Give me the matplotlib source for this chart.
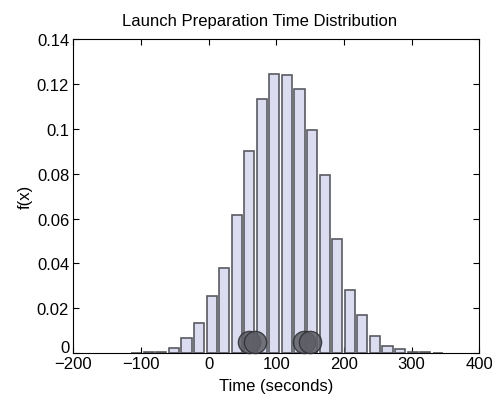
import matplotlib
matplotlib.use('agg')
import matplotlib.pyplot as plt
import matplotlib.transforms as mtransforms

# Bin centres (seconds) and relative frequency
bin_centers = [-107.0, -88.4, -69.9, -51.3, -32.7, -14.2, 4.4, 23.0, 41.6,
               60.1, 78.7, 97.3, 115.8, 134.4, 153.0, 171.5, 190.1, 208.7,
               227.2, 245.8, 264.4, 283.0, 301.5, 320.1, 338.7]
freqs = [0.0002, 0.0003, 0.0007, 0.0025, 0.0066, 0.0133, 0.0255, 0.038, 0.0618,
         0.090, 0.1134, 0.1247, 0.1241, 0.1179, 0.0995, 0.0794, 0.0508, 0.028,
         0.017, 0.0076, 0.0031, 0.0018, 0.0007, 0.0003, 0.0001]

# overlapping gray markers near the base
marker_x = [59, 68, 141, 150]
marker_y = [0.005, 0.005, 0.005, 0.005]

xticks = [-200, -100, 0, 100, 200, 300, 400]
yticks = [0, 0.02, 0.04, 0.06, 0.08, 0.1, 0.12, 0.14]
ytick_labels = ['0', '0.02', '0.04', '0.06', '0.08', '0.1', '0.12', '0.14']

plt.rcParams['font.family'] = ['Liberation Sans', 'DejaVu Sans']

fig = plt.figure(figsize=(4.92, 4.02), dpi=100)
ax = fig.add_axes([0.149, 0.119, 0.825, 0.781])

ax.bar(bin_centers, freqs, width=14.9, color='#dcdcf0', edgecolor='#5a5a62',
       linewidth=1.2, zorder=2)

ax.plot(marker_x, marker_y, 'o', markersize=16, markerfacecolor='#5e5e66',
        markeredgecolor='#2e2e34', markeredgewidth=1.0, alpha=0.85,
        linestyle='none', zorder=3, clip_on=False)

ax.set_xlim(-200, 400)
ax.set_ylim(0, 0.14)
ax.set_xticks(xticks)
ax.set_yticks(yticks)
ax.set_yticklabels(ytick_labels)
ax.tick_params(direction='in', top=True, right=True, length=4, width=0.8,
               labelsize=12, pad=3)
ax.tick_params(axis='x', pad=2)
for s in ax.spines.values():
    s.set_linewidth(0.8)

# nudge the y "0" up a little so it sits above the "-200" like the original
lbl0 = ax.get_yticklabels()[0]
lbl0.set_transform(lbl0.get_transform() +
                   mtransforms.ScaledTranslation(0, 5 / 72, fig.dpi_scale_trans))

ax.set_title('Launch Preparation Time Distribution', fontsize=12, pad=10, x=0.46)
ax.set_xlabel('Time (seconds)', fontsize=12, labelpad=5)
ax.set_ylabel('f(x)', fontsize=12, labelpad=3)

fig.savefig('out.png', dpi=100)
